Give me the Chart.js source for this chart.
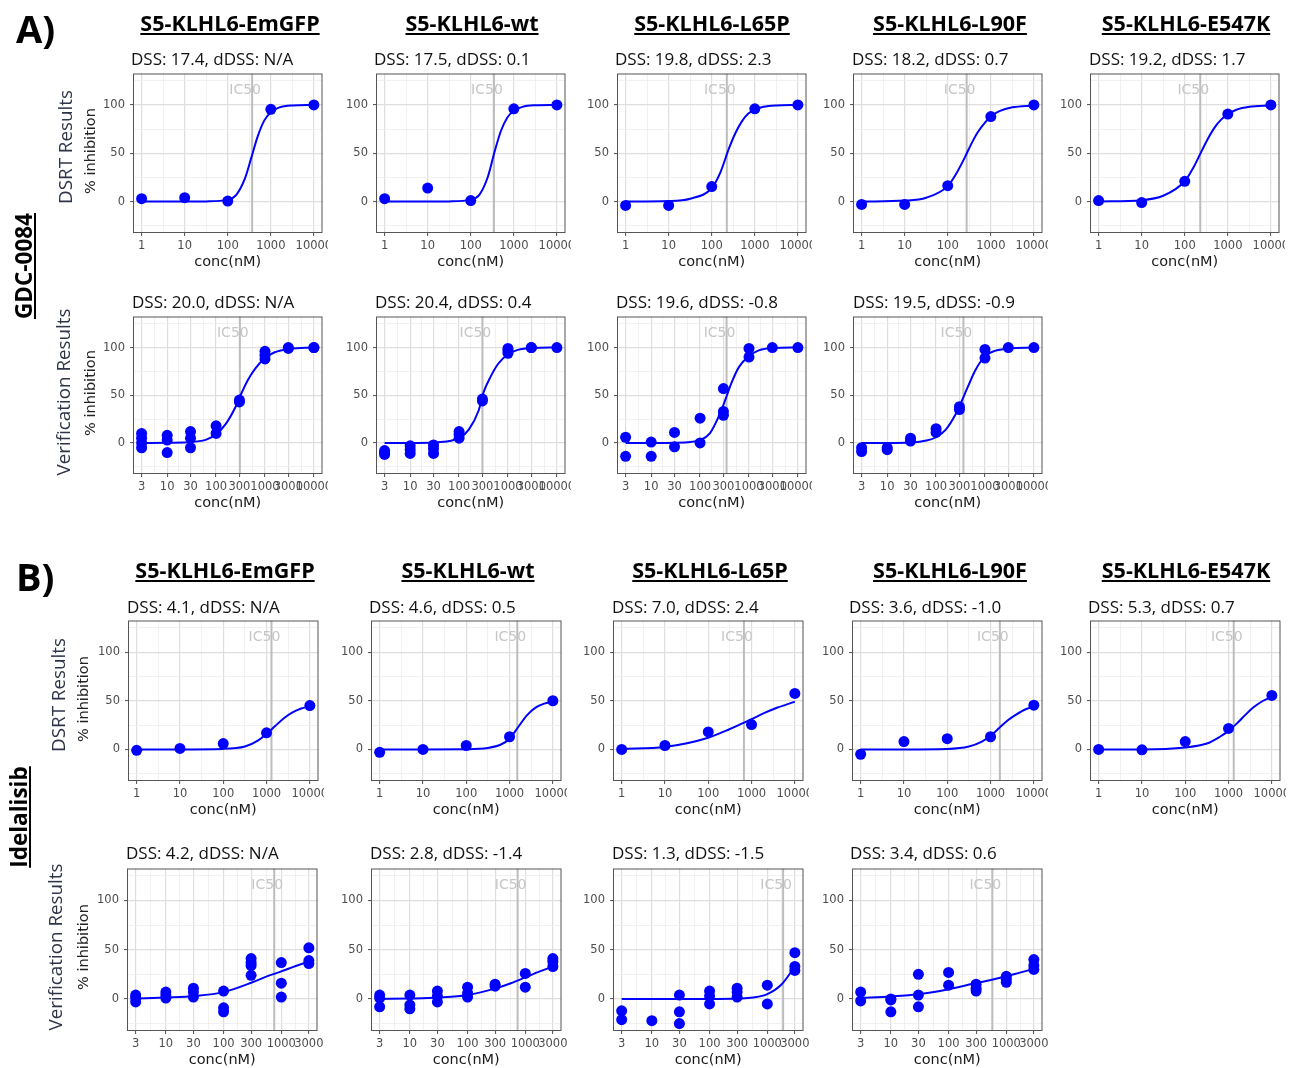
<!DOCTYPE html>
<html><head><meta charset="utf-8">
<script src="https://cdn.jsdelivr.net/npm/chart.js@4.4.1/dist/chart.umd.min.js"></script>
<style>
html,body{margin:0;padding:0;background:#fff}
#wrap{position:relative;width:1301px;height:1068px;overflow:hidden;background:#fff}
#wrap canvas{position:absolute;z-index:1}
#ann{position:absolute;left:0;top:0;z-index:2}
</style></head>
<body><div id="wrap"><svg id="ann" width="1301" height="1068" xmlns="http://www.w3.org/2000/svg"></svg></div>
<script>
// ================= DATA =================
const strains = ['S5-KLHL6-EmGFP','S5-KLHL6-wt','S5-KLHL6-L65P','S5-KLHL6-L90F','S5-KLHL6-E547K'];
const drugA = 'GDC-0084';
const drugB = 'Idelalisib';
const rowDsrt = 'DSRT Results';
const rowVerif = 'Verification Results';
const yTitle = '% inhibition';
const xTitle = 'conc(nM)';

const dsrtTicks = [1,10,100,1000,10000];
const verifTicksA = [3,10,30,100,300,1000,3000,10000];
const verifTicksB = [3,10,30,100,300,1000,3000];
const yTicks = [0,50,100];

// ---- A) GDC-0084, DSRT ----
const aDsrtTitles = ['DSS: 17.4, dDSS: N/A','DSS: 17.5, dDSS: 0.1','DSS: 19.8, dDSS: 2.3','DSS: 18.2, dDSS: 0.7','DSS: 19.2, dDSS: 1.7'];
const aDsrtDoses = [1,10,100,1000,10000];
const aDsrtResp = [
  [3,4,0.5,95.5,100],
  [3,14,1,96,100],
  [-4,-4,15.5,96,100],
  [-3,-3,16.5,88,100],
  [1,-1,21,90.5,100]
];
const aDsrtIC50 = [368,346,224,275,229];
const aDsrtCurveX = [1,10,31.6,100,158,251,355,501,708,1000,1585,3162,10000];
const aDsrtCurveY = [
  [0,0,0.2,2,7,24,46,68,84,92.5,97.5,99.5,100],
  [0,0,0.2,2,7,26,51,73,87,94,98,99.6,100],
  [0,0.5,3,14,30,55,71,83,91,95,98,99.5,100],
  [0,1,4,16,29,46,60,72,81,88,93.5,97.5,99.5],
  [0.2,1.5,6,21,35,53,66,77,85,90.5,95,98,99.6]
];

// ---- A) GDC-0084, verification ----
const aVerTitles = ['DSS: 20.0, dDSS: N/A','DSS: 20.4, dDSS: 0.4','DSS: 19.6, dDSS: -0.8','DSS: 19.5, dDSS: -0.9'];
const aVerX = [
  [3,3,3,3,10,10,10,30,30,30,100,100,300,300,1000,1000,1000,3000,3000,10000,10000],
  [3,3,3,10,10,10,30,30,30,100,100,100,300,300,1000,1000,1000,3000,3000,10000],
  [3,3,10,10,30,30,100,100,300,300,300,1000,1000,3000,10000],
  [3,3,10,10,30,30,100,100,300,300,1000,1000,3000,10000]
];
const aVerY = [
  [10,5,0,-5,8,3,-10,12,5,-5,18,10,45,43,96,92,88,100,99,100,100],
  [-8,-10,-12,-3,-7,-11,-2,-6,-11,12,9,5,46,44,99,97,94,100,100,100],
  [6,-14,1,-14,11,-4,26,0,57,33,29,99,90,100,100],
  [-5,-9,-5,-7,5,2,15,11,38,35,98,89,100,100]
];
const aVerIC50 = [306,300,348,362];
const aVerCurveX = [3,10,31.6,63.1,100,158,251,316,447,631,1000,1585,3162,10000];
const aVerCurveY = [
  [0,0.2,1,3.5,9,20,38,50,66,78,89,95,98.5,100],
  [0,0,0.5,2,5,14,34,53,70,83,93,97.5,99.5,100],
  [0,0,0.2,1,3,10,30,43,64,80,91,97,99.5,100],
  [0,0,0.5,2.5,6,14,30,41,59,76,91,96.5,99,100]
];

// ---- B) Idelalisib, DSRT ----
const bDsrtTitles = ['DSS: 4.1, dDSS: N/A','DSS: 4.6, dDSS: 0.5','DSS: 7.0, dDSS: 2.4','DSS: 3.6, dDSS: -1.0','DSS: 5.3, dDSS: 0.7'];
const bDsrtDoses = [1,10,100,1000,10000];
const bDsrtResp = [
  [-1,1,6,17,45],
  [-3,0,4,13,50],
  [0,4,18,25.5,57.5],
  [-5,8,11,13,45.5],
  [0,-0.5,8,21.5,55.5]
];
const bDsrtIC50 = [1300,1510,667,1640,1318];
const bDsrtCurveX = [1,10,100,316,631,1000,1585,2512,3981,6310,10000];
const bDsrtCurveY = [
  [0,0,0.5,3,9,16,24,32,38,42,44.5],
  [0,0,0.2,1.5,5,11,23,35,43,47,49],
  [0.5,2.5,12,21,27,31,35.5,39.5,43,46,49],
  [0,0,0.5,3,8,14,22,30,36,41,44],
  [0,0,2,6,13,19,27,36,44,50,54]
];

// ---- B) Idelalisib, verification ----
const bVerTitles = ['DSS: 4.2, dDSS: N/A','DSS: 2.8, dDSS: -1.4','DSS: 1.3, dDSS: -1.5','DSS: 3.4, dDSS: 0.6'];
const bVerX = [
  [3,3,3,10,10,10,30,30,30,100,100,100,300,300,300,300,1000,1000,1000,3000,3000,3000],
  [3,3,3,10,10,10,30,30,30,100,100,100,300,300,1000,1000,3000,3000,3000],
  [3,3,10,30,30,30,100,100,100,300,300,300,1000,1000,3000,3000,3000],
  [3,3,10,10,10,30,30,30,100,100,300,300,300,1000,1000,1000,3000,3000,3000]
];
const bVerY = [
  [4,1,-3,7,4,1,11,7,2,8,-9,-13,41,37,34,24,37,16,2,52,39,36],
  [4,1,-8,4,-6,-10,8,3,-3,12,6,2,15,13,26,12,41,38,33],
  [-12,-21,-22,4,-13,-25,8,3,-5,11,7,2,14,-5,47,33,29],
  [7,-2,0,-1,-13,25,4,-8,27,14,15,11,8,23,20,17,40,34,30]
];
const bVerIC50 = [754,736,1880,573];
const bVerCurveX = [3,10,31.6,100,316,562,1000,1778,3000];
const bVerCurveY = [
  [0.5,1.5,3,7,17,23,28,33.5,38],
  [0,0.5,1.5,4,11,16,22,28,33],
  [0,0,0,0,0.5,1.5,5,15,33],
  [1,2.5,5,10,16.5,19.5,23,27,30.5]
];

// ================= DRAWING =================
const wrap = document.getElementById('wrap');
const svg = document.getElementById('ann');
const NS = 'http://www.w3.org/2000/svg';
Chart.defaults.font.family = 'DejaVu Sans';

const Y_MIN = -32.5, Y_MAX = 132.5;
const yMinor = [-25,25,75,125];
const near = (arr, v) => arr.some(m => Math.abs(m - v) <= 1e-6 * Math.max(1, Math.abs(m)));

// geometric midpoints between consecutive major ticks (ggplot minor grid)
function minorsOf(maj, lo, hi) {
  const out = [];
  for (let i = 0; i < maj.length - 1; i++) out.push(Math.sqrt(maj[i] * maj[i + 1]));
  return out.filter(v => v > lo && v < hi);
}

const decoPlugin = {
  id: 'deco',
  beforeDatasetsDraw(chart, args, opts) {
    const {ctx, chartArea: a, scales: {x, y}} = chart;
    ctx.save();
    ctx.beginPath(); ctx.rect(a.left, a.top, a.right - a.left, a.bottom - a.top); ctx.clip();
    ctx.font = '14px "DejaVu Sans"'; ctx.fillStyle = '#c6c6c6';
    ctx.textAlign = 'center'; ctx.textBaseline = 'middle';
    ctx.fillText('IC50', x.getPixelForValue(opts.ic50) - 7, y.getPixelForValue(115));
    ctx.restore();
  },
  afterDraw(chart) {
    const {ctx, chartArea: a} = chart;
    ctx.save(); ctx.strokeStyle = '#555555'; ctx.lineWidth = 1;
    ctx.strokeRect(a.left + 0.5, a.top + 0.5, a.right - a.left - 1, a.bottom - a.top - 1);
    ctx.restore();
  }
};

function drawPanel(L, T, R, B, xMin, xMax, xMajor, ptsX, ptsY, curveX, curveY, ic50) {
  const AXW = 38, AXH = 38, PT = 2, PR = 1;
  const pw = R - L + 1, ph = B - T + 1;
  const cv = document.createElement('canvas');
  cv.width = AXW + pw + PR; cv.height = PT + ph + AXH;
  cv.style.left = (L - AXW) + 'px'; cv.style.top = (T - PT) + 'px';
  wrap.insertBefore(cv, svg);
  const xMinor = minorsOf(xMajor, xMin, xMax);
  const xAll = [...xMajor, ...xMinor].sort((a, b) => a - b);
  const yAll = [...yTicks, ...yMinor].sort((a, b) => a - b);
  const gcol = maj => c => (c.tick && near(maj, c.tick.value)) ? '#dedede' : '#eeeeee';
  const gw = maj => c => (c.tick && near(maj, c.tick.value)) ? 1.2 : 0.8;
  const tcol = maj => c => (c.tick && near(maj, c.tick.value)) ? '#4d4d4d' : 'rgba(0,0,0,0)';
  const tickFont = {family: 'DejaVu Sans', size: 11.5, lineHeight: 1};
  new Chart(cv, {
    type: 'scatter',
    data: {datasets: [
      {data: ptsX.map((x, i) => ({x, y: ptsY[i]})), showLine: false, pointRadius: 5.5, pointHoverRadius: 5.5,
       pointBackgroundColor: '#0000ff', pointBorderColor: '#0000ff', pointBorderWidth: 0, order: 0},
      {data: curveX.map((x, i) => ({x, y: curveY[i]})), showLine: true, pointRadius: 0, borderColor: '#0000ff',
       borderWidth: 2, cubicInterpolationMode: 'monotone', order: 1},
      {data: [{x: ic50, y: Y_MIN}, {x: ic50, y: Y_MAX}], showLine: true, pointRadius: 0, borderColor: '#bdbdbd',
       borderWidth: 2, order: 2}
    ]},
    options: {
      responsive: false, animation: false, devicePixelRatio: 1, events: [],
      layout: {padding: {top: PT, right: PR, left: 0, bottom: 0}},
      plugins: {legend: {display: false}, tooltip: {enabled: false}, deco: {ic50}},
      scales: {
        x: {type: 'logarithmic', min: xMin, max: xMax, bounds: 'data',
          afterBuildTicks: s => { s.ticks = xAll.map(v => ({value: v})); },
          afterFit: s => { s.height = AXH; s.paddingLeft = 0; s.paddingRight = 0; },
          ticks: {autoSkip: false, maxRotation: 0, minRotation: 0, padding: 4, color: '#4d4d4d', font: tickFont,
            callback: v => near(xMajor, v) ? String(Math.round(v)) : ''},
          grid: {color: gcol(xMajor), lineWidth: gw(xMajor), tickLength: 3, tickColor: tcol(xMajor), tickWidth: 1},
          border: {display: false},
          title: {display: true, text: xTitle, color: '#1a1a1a', font: {family: 'DejaVu Sans', size: 14.5, lineHeight: 1},
            padding: {top: 0, bottom: 1.5}}
        },
        y: {type: 'linear', min: Y_MIN, max: Y_MAX, bounds: 'data',
          afterBuildTicks: s => { s.ticks = yAll.map(v => ({value: v})); },
          afterFit: s => { s.width = AXW; s.paddingTop = 0; s.paddingBottom = 0; },
          ticks: {autoSkip: false, padding: 5, color: '#4d4d4d', font: tickFont,
            callback: v => near(yTicks, v) ? String(v) : ''},
          grid: {color: gcol(yTicks), lineWidth: gw(yTicks), tickLength: 3, tickColor: tcol(yTicks), tickWidth: 1},
          border: {display: false}
        }
      }
    },
    plugins: [decoPlugin]
  });
}

// ---- layout (positions only) ----
const geo = {
  A1: {T: 70, B: 232, lefts: [133, 376, 617, 853, 1090], w: 194, tx: [131, 374, 615, 852, 1089], tb: 65},
  A2: {T: 313, B: 473, lefts: [133, 376, 617, 853], w: 194, tx: [132, 375, 616, 853], tb: 308},
  B1: {T: 617, B: 780, lefts: [128, 371, 613, 852, 1090], w: 195, tx: [127, 369, 612, 849, 1088], tb: 613},
  B2: {T: 865, B: 1030, lefts: [127, 371, 613, 852], w: 195, tx: [126, 370, 612, 850], tb: 859}
};
const xrDsrt = [Math.pow(10, -0.2), Math.pow(10, 4.2)];
const xrVerA = [Math.pow(10, 0.301), Math.pow(10, 4.176)];
const xrVerB = [Math.pow(10, 0.327), Math.pow(10, 3.627)];

function row(g, xr, ticks, titles, getX, getY, cx, cy, ic) {
  g.lefts.forEach((L, i) => {
    drawPanel(L, g.T, L + g.w - 1, g.B, xr[0], xr[1], ticks, getX(i), getY(i), cx, cy[i], ic[i]);
    svgText(titles[i], g.tx[i], g.tb, {family: '"Open Sans"', size: 17, color: '#111'});
  });
}

function svgText(txt, x, y, o) {
  const t = document.createElementNS(NS, 'text');
  t.textContent = txt;
  t.setAttribute('x', x); t.setAttribute('y', y);
  t.setAttribute('font-family', o.family); t.setAttribute('font-size', o.size);
  if (o.weight) t.setAttribute('font-weight', o.weight);
  t.setAttribute('fill', o.color || '#111');
  if (o.anchor) t.setAttribute('text-anchor', o.anchor);
  if (o.rot) t.setAttribute('transform', `rotate(-90 ${x} ${y})`);
  svg.appendChild(t);
  if (o.underline) {
    const w = t.getComputedTextLength();
    const x0 = o.anchor === 'middle' ? x - w / 2 : x;
    const ln = document.createElementNS(NS, 'line');
    ln.setAttribute('x1', x0); ln.setAttribute('x2', x0 + w);
    ln.setAttribute('y1', y + o.underline); ln.setAttribute('y2', y + o.underline);
    ln.setAttribute('stroke', o.color || '#111'); ln.setAttribute('stroke-width', 2);
    if (o.rot) ln.setAttribute('transform', `rotate(-90 ${x} ${y})`);
    svg.appendChild(ln);
  }
  return t;
}

row(geo.A1, xrDsrt, dsrtTicks, aDsrtTitles, i => aDsrtDoses, i => aDsrtResp[i], aDsrtCurveX, aDsrtCurveY, aDsrtIC50);
row(geo.A2, xrVerA, verifTicksA, aVerTitles, i => aVerX[i], i => aVerY[i], aVerCurveX, aVerCurveY, aVerIC50);
row(geo.B1, xrDsrt, dsrtTicks, bDsrtTitles, i => bDsrtDoses, i => bDsrtResp[i], bDsrtCurveX, bDsrtCurveY, bDsrtIC50);
row(geo.B2, xrVerB, verifTicksB, bVerTitles, i => bVerX[i], i => bVerY[i], bVerCurveX, bVerCurveY, bVerIC50);

// ---- headers & labels ----
const hdrA = [230, 472, 712, 950, 1186];
const hdrB = [225, 468, 710, 950, 1186];
const hdrFont = {family: '"Open Sans"', size: 21.5, weight: 'bold', color: '#000', anchor: 'middle', underline: 3};
strains.forEach((s, i) => { svgText(s, hdrA[i], 31, hdrFont); svgText(s, hdrB[i], 578, hdrFont); });
svgText('A)', 16, 43, {family: '"Open Sans"', size: 38, weight: 'bold', color: '#000'});
svgText('B)', 16, 591, {family: '"Open Sans"', size: 38, weight: 'bold', color: '#000'});
svgText(drugA, 32, 266, {family: '"Open Sans"', size: 22.5, weight: 'bold', color: '#000', anchor: 'middle', rot: true, underline: 3});
svgText(drugB, 27, 817, {family: '"Open Sans"', size: 22.5, weight: 'bold', color: '#000', anchor: 'middle', rot: true, underline: 3});
const rowFont = {family: '"Open Sans"', size: 18.8, color: '#2e3548', anchor: 'middle', rot: true};
const yFont = {family: 'DejaVu Sans', size: 14.5, color: '#222', anchor: 'middle', rot: true};
svgText(rowDsrt, 72, 147, rowFont);   svgText(yTitle, 95, 151, yFont);
svgText(rowVerif, 70, 392, rowFont);  svgText(yTitle, 95, 393, yFont);
svgText(rowDsrt, 65, 695, rowFont);   svgText(yTitle, 88, 699, yFont);
svgText(rowVerif, 62, 947, rowFont);  svgText(yTitle, 88, 947, yFont);
</script></body></html>
